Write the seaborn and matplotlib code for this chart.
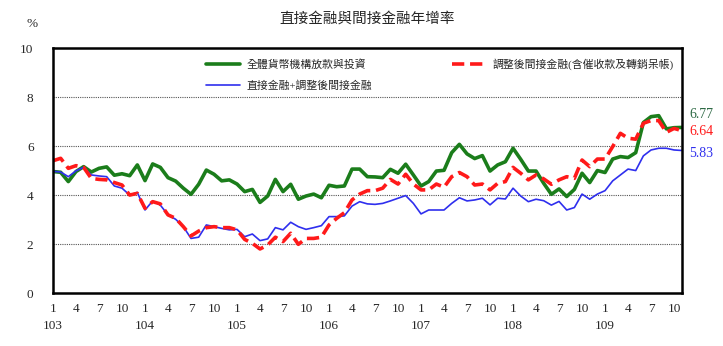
import matplotlib
matplotlib.use("Agg")
import matplotlib.pyplot as plt
import seaborn as sns
import pandas as pd

# month index 0 = 103/1 ... 82 = 109/11
months = list(range(83))

total_loans = [4.97, 4.94, 4.56, 4.97, 5.17, 4.95, 5.10, 5.16, 4.82, 4.88, 4.80, 5.24,
               4.60, 5.28, 5.14, 4.72, 4.58, 4.29, 4.04, 4.45, 5.03, 4.86, 4.59, 4.63,
               4.46, 4.15, 4.24, 3.71, 3.97, 4.65, 4.15, 4.45, 3.84, 3.97, 4.05, 3.90,
               4.41, 4.35, 4.38, 5.07, 5.07, 4.76, 4.75, 4.72, 5.06, 4.90, 5.27, 4.83,
               4.38, 4.56, 4.99, 5.02, 5.74, 6.08, 5.69, 5.50, 5.62, 4.99, 5.24, 5.37,
               5.92, 5.47, 4.99, 4.99, 4.49, 4.04, 4.26, 3.95, 4.24, 4.90, 4.52, 5.01,
               4.93, 5.48, 5.58, 5.54, 5.74, 6.97, 7.21, 7.25, 6.71, 6.76, 6.77]

indirect_adj = [5.41, 5.51, 5.10, 5.21, 5.14, 4.69, 4.65, 4.63, 4.52, 4.42, 4.01, 4.08,
                3.47, 3.74, 3.65, 3.20, 3.06, 2.72, 2.34, 2.54, 2.68, 2.72, 2.68, 2.68,
                2.59, 2.20, 2.04, 1.81, 1.97, 2.29, 2.11, 2.45, 2.00, 2.24, 2.24, 2.29,
                2.79, 3.06, 3.29, 3.81, 4.05, 4.19, 4.19, 4.29, 4.65, 4.46, 4.86, 4.46,
                4.22, 4.22, 4.46, 4.33, 4.76, 4.93, 4.76, 4.42, 4.46, 4.22, 4.49, 4.56,
                5.14, 4.90, 4.63, 4.83, 4.67, 4.45, 4.63, 4.76, 4.69, 5.44, 5.17, 5.48,
                5.48, 5.99, 6.53, 6.33, 6.29, 6.94, 7.05, 7.05, 6.57, 6.73, 6.64]

direct_plus_indirect = [4.98, 4.95, 4.76, 5.00, 5.14, 4.83, 4.79, 4.76, 4.38, 4.29, 4.01, 4.12,
                        3.40, 3.77, 3.60, 3.20, 3.02, 2.72, 2.24, 2.29, 2.79, 2.72, 2.65, 2.59,
                        2.61, 2.31, 2.42, 2.15, 2.22, 2.68, 2.59, 2.90, 2.72, 2.61, 2.68, 2.76,
                        3.13, 3.13, 3.16, 3.56, 3.74, 3.65, 3.63, 3.67, 3.77, 3.88, 3.99, 3.67,
                        3.24, 3.40, 3.40, 3.40, 3.67, 3.90, 3.77, 3.81, 3.88, 3.61, 3.88, 3.85,
                        4.29, 3.97, 3.74, 3.84, 3.78, 3.60, 3.75, 3.40, 3.50, 4.05, 3.84, 4.05,
                        4.19, 4.59, 4.83, 5.07, 5.01, 5.61, 5.85, 5.92, 5.92, 5.85, 5.83]

series_names = ["全體貨幣機構放款與投資",
                "直接金融+調整後間接金融",
                "調整後間接金融(含催收款及轉銷呆帳)"]
month_labels = ["1", "4", "7", "10"]
year_labels = ["103", "104", "105", "106", "107", "108", "109"]
last_labels = ["6.77", "6.64", "5.83"]

sns.set_style("white")
plt.rcParams["font.family"] = ["Liberation Serif", "Noto Sans CJK TC"]

fig = plt.figure(figsize=(7.23, 3.46), dpi=100)
ax = fig.add_axes([0.0733, 0.1523, 0.8696, 0.7081])

c_green, c_blue, c_red = "#1b7d1b", "#2f2fee", "#ff1a1a"
df = pd.DataFrame({"m": months, "g": total_loans, "r": indirect_adj, "b": direct_plus_indirect})

sns.lineplot(data=df, x="m", y="g", ax=ax, color=c_green, lw=2.6, label=series_names[0])
sns.lineplot(data=df, x="m", y="b", ax=ax, color=c_blue, lw=1.2, label=series_names[1])
sns.lineplot(data=df, x="m", y="r", ax=ax, color=c_red, lw=2.6,
             linestyle=(0, (3.4, 1.6)), label=series_names[2])

ax.set_xlim(0, 82)
ax.set_ylim(0, 10)
ax.set_xlabel("")
ax.set_ylabel("")

# grid
for yv in [2, 4, 6, 8]:
    ax.axhline(yv, color="#555555", lw=0.8, ls=(0, (1, 1)), zorder=0)

# x ticks
xt = list(range(0, 82, 3))
xl = []
for i, t in enumerate(xt):
    ml = month_labels[i % 4]
    if i % 4 == 0:
        xl.append(ml + "\n" + year_labels[i // 4])
    else:
        xl.append(ml)
ax.set_xticks(xt)
ax.set_xticklabels(xl, fontsize=9.5, linespacing=1.55, va="top")
ax.tick_params(axis="x", direction="in", length=3, width=0.8, pad=7, color="black")
ax.set_yticks(range(0, 11, 2))
ax.set_yticklabels([str(v) for v in range(0, 11, 2)], fontsize=9.5)
ax.tick_params(axis="y", length=0, pad=14)

for sp in ax.spines.values():
    sp.set_visible(True)
    sp.set_color("black")
    sp.set_linewidth(1.8)

# legend
h, l = ax.get_legend_handles_labels()
ax.legend(h, l, ncol=2, loc="upper left", bbox_to_anchor=(0.244, 0.96),
          frameon=False, fontsize=7.8, handlelength=3.1, handletextpad=0.6,
          columnspacing=7.4, labelspacing=0.95, borderpad=0, borderaxespad=0)

# end labels
ax.text(83.0, 7.28, last_labels[0], color="#2e6a45", fontsize=10, va="center", ha="left", clip_on=False)
ax.text(83.0, 6.62, last_labels[1], color=c_red, fontsize=10, va="center", ha="left", clip_on=False)
ax.text(83.0, 5.69, last_labels[2], color=c_blue, fontsize=10, va="center", ha="left", clip_on=False)

fig.text(0.508, 0.945, "直接金融與間接金融年增率", ha="center", va="center", fontsize=10.5)
fig.text(0.045, 0.93, "%", ha="center", va="center", fontsize=9.5)

fig.savefig("out.png", dpi=100)
